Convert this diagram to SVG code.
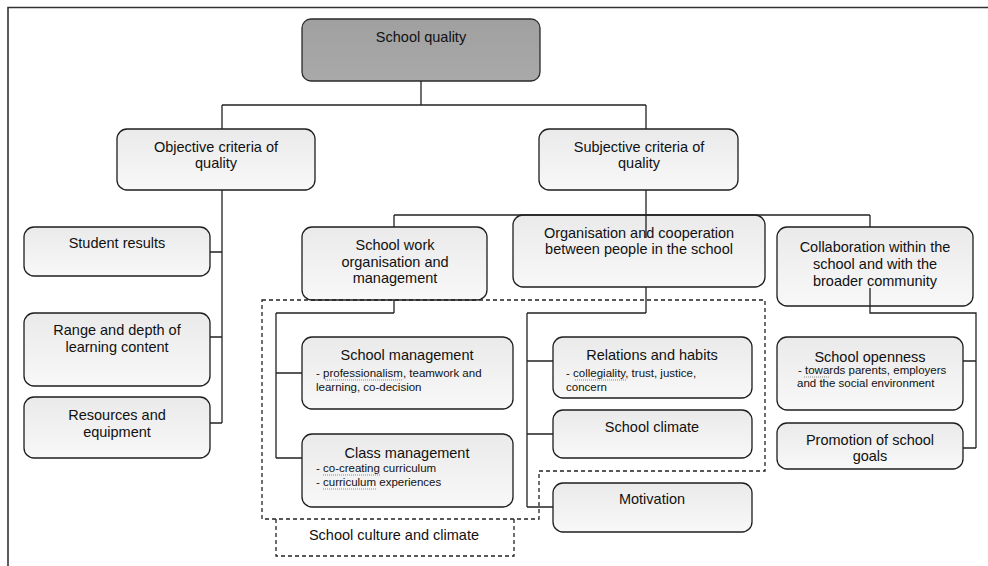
<svg xmlns="http://www.w3.org/2000/svg" width="988" height="566" viewBox="0 0 988 566">
<defs>
<linearGradient id="g" x1="0" y1="0" x2="0" y2="1">
<stop offset="0" stop-color="#eaeaea"/>
<stop offset="1" stop-color="#f8f8f8"/>
</linearGradient>
<linearGradient id="gt" x1="0" y1="0" x2="0" y2="1">
<stop offset="0" stop-color="#a0a0a0"/>
<stop offset="1" stop-color="#a9a9a9"/>
</linearGradient>
</defs>
<style>
.b{fill:url(#g);stroke:#1e1e1e;stroke-width:1.3}
.top{fill:url(#gt);stroke:#2a2a2a;stroke-width:1.3}
text{font-family:"Liberation Sans",Arial,sans-serif;fill:#111}
.t{font-size:14.5px;text-anchor:middle}
.s{font-size:11.5px}
.c{fill:none;stroke:#222;stroke-width:1.3}
.d{fill:none;stroke:#222;stroke-width:1.3;stroke-dasharray:4 3}
.u{stroke:#8a8a8a;stroke-width:1;stroke-dasharray:1 1}
.f{fill:none;stroke:#333;stroke-width:1.6}
</style>
<rect width="988" height="566" fill="#fff"/>
<path class="f" d="M8,566 V7.5 H988"/>

<g id="school-quality">
<rect class="top" x="302" y="19" width="238" height="62" rx="9"/>
<text class="t" x="421" y="42">School quality</text>
</g>
<g id="objective">
<rect class="b" x="117" y="129" width="198" height="61" rx="10"/>
<text class="t" x="216" y="152">Objective criteria of</text>
<text class="t" x="216" y="168">quality</text>
</g>
<g id="subjective">
<rect class="b" x="539" y="129" width="199" height="61" rx="10"/>
<text class="t" x="639" y="152">Subjective criteria of</text>
<text class="t" x="639" y="168">quality</text>
</g>
<g id="student-results">
<rect class="b" x="24" y="227" width="186" height="49" rx="10"/>
<text class="t" x="117" y="248">Student results</text>
</g>
<g id="range-depth">
<rect class="b" x="24" y="313" width="186" height="73" rx="10"/>
<text class="t" x="117" y="335">Range and depth of</text>
<text class="t" x="117" y="352">learning content</text>
</g>
<g id="resources">
<rect class="b" x="24" y="397" width="186" height="61" rx="10"/>
<text class="t" x="117" y="420">Resources and</text>
<text class="t" x="117" y="437">equipment</text>
</g>
<g id="school-work">
<rect class="b" x="302" y="227" width="185" height="73" rx="10"/>
<text class="t" x="395" y="250">School work</text>
<text class="t" x="395" y="267">organisation and</text>
<text class="t" x="395" y="283">management</text>
</g>
<g id="organisation">
<rect class="b" x="513" y="215" width="252" height="72" rx="10"/>
<text class="t" x="639" y="238">Organisation and cooperation</text>
<text class="t" x="639" y="254">between people in the school</text>
</g>
<g id="collaboration">
<rect class="b" x="777" y="227" width="196" height="79" rx="10"/>
<text class="t" x="875" y="252">Collaboration within the</text>
<text class="t" x="875" y="269">school and with the</text>
<text class="t" x="875" y="286">broader community</text>
</g>
<g id="school-management">
<rect class="b" x="302" y="337" width="211" height="72" rx="10"/>
<text class="t" x="407" y="360">School management</text>
<text class="s" x="316" y="377">- professionalism,  teamwork and</text>
<text class="s" x="316" y="391">learning, co-decision</text>
<line class="u" x1="325" y1="380" x2="403" y2="380"/>
</g>
<g id="class-management">
<rect class="b" x="302" y="434" width="211" height="73" rx="10"/>
<text class="t" x="407" y="458">Class management</text>
<text class="s" x="316" y="472">- co-creating curriculum</text>
<text class="s" x="316" y="486">- curriculum experiences</text>
<line class="u" x1="323" y1="475" x2="380" y2="475"/>
<line class="u" x1="323" y1="489" x2="376" y2="489"/>
</g>
<g id="relations">
<rect class="b" x="553" y="337" width="199" height="61" rx="10"/>
<text class="t" x="652" y="360">Relations and habits</text>
<text class="s" x="566" y="377">- collegiality,  trust, justice,</text>
<text class="s" x="566" y="391">concern</text>
<line class="u" x1="575" y1="380" x2="626" y2="380"/>
</g>
<g id="school-climate">
<rect class="b" x="553" y="410" width="199" height="48" rx="10"/>
<text class="t" x="652" y="432">School climate</text>
</g>
<g id="motivation">
<rect class="b" x="553" y="483" width="199" height="49" rx="10"/>
<text class="t" x="652" y="504">Motivation</text>
</g>
<g id="school-openness">
<rect class="b" x="777" y="337" width="186" height="73" rx="10"/>
<text class="t" x="870" y="362">School openness</text>
<text class="s" x="798" y="374">- towards parents, employers</text>
<text class="s" x="797" y="387">and the social environment</text>
<line class="u" x1="804" y1="377" x2="829" y2="377"/>
</g>
<g id="promotion">
<rect class="b" x="777" y="423" width="186" height="46" rx="10"/>
<text class="t" x="870" y="445">Promotion of school</text>
<text class="t" x="870" y="461">goals</text>
</g>
<g id="school-culture">
<path class="d" d="M262,300 H765 V471 H539 V519 H262 Z"/>
<path class="d" d="M276,519 V556 H514 V519"/>
<text class="t" x="394" y="540">School culture and climate</text>
</g>

<g id="connectors">
<path class="c" d="M421,81 V105 M222,105 H646 M222,105 V129 M646,105 V129"/>
<path class="c" d="M222,190 V423 M210,252 H222 M210,337 H222 M210,423 H222"/>
<path class="c" d="M646,190 V238 M394,215 H870 M394,215 V227 M870,215 V227"/>
<path class="c" d="M646,287 V313 M527,313 H646 M527,313 V507 M527,361 H553 M527,434 H553 M527,507 H553"/>
<path class="c" d="M394,300 V313 M276,313 H394 M276,313 V458 M276,373 H302 M276,458 H302"/>
<path class="c" d="M870,288 V313 H976 V448 M963,361 H976 M963,448 H976"/>
</g>
</svg>
